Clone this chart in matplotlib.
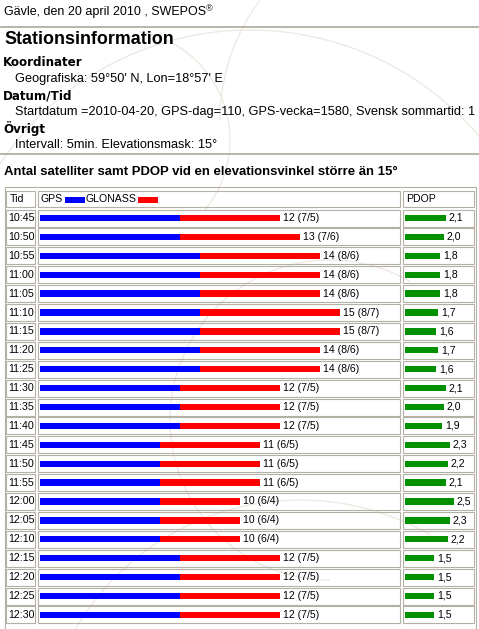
import matplotlib
matplotlib.use("Agg")
import matplotlib.pyplot as plt
from matplotlib.patches import Rectangle, Arc

plt.rcParams['font.family'] = ['Liberation Sans', 'DejaVu Sans']

# ---- data ----
times = ["10:45", "10:50", "10:55", "11:00", "11:05", "11:10", "11:15", "11:20",
         "11:25", "11:30", "11:35", "11:40", "11:45", "11:50", "11:55", "12:00",
         "12:05", "12:10", "12:15", "12:20", "12:25", "12:30"]
gps = [7, 7, 8, 8, 8, 8, 8, 8, 8, 7, 7, 7, 6, 6, 6, 6, 6, 6, 7, 7, 7, 7]
glonass = [5, 6, 6, 6, 6, 7, 7, 6, 6, 5, 5, 5, 5, 5, 5, 4, 4, 4, 5, 5, 5, 5]
pdop = [2.1, 2.0, 1.8, 1.8, 1.8, 1.7, 1.6, 1.7, 1.6, 2.1, 2.0, 1.9, 2.3, 2.2,
        2.1, 2.5, 2.3, 2.2, 1.5, 1.5, 1.5, 1.5]

header_text = "Gävle, den 20 april 2010 , SWEPOS"
title_text = "Stationsinformation"
info = [
    ("Koordinater", True), ("Geografiska: 59°50' N, Lon=18°57' E", False),
    ("Datum/Tid", True),
    ("Startdatum =2010-04-20, GPS-dag=110, GPS-vecka=1580, Svensk sommartid: 1", False),
    ("Övrigt", True), ("Intervall: 5min. Elevationsmask: 15°", False),
]
table_title = "Antal satelliter samt PDOP vid en elevationsvinkel större än 15°"

# ---- layout (pixels) ----
W, H = 479, 629
fig = plt.figure(figsize=(W / 100, H / 100), dpi=100)
fig.patch.set_facecolor("white")
base = fig.add_axes([0, 0, 1, 1])
base.set_xlim(0, W)
base.set_ylim(H, 0)
base.axis("off")

# faint watermark arcs
wm = "#ebe8e0"
for (cx, cy, r, t1, t2) in [(330, 420, 160, 90, 300), (250, 330, 300, 200, 330),
                            (120, 140, 110, 280, 400), (420, 120, 200, 180, 270),
                            (300, 760, 260, 200, 300)]:
    base.add_patch(Arc((cx, cy), 2 * r, 2 * r, theta1=t1, theta2=t2,
                       color=wm, lw=0.9))

t = base.text(4, 12, header_text, fontsize=9.0, va="center", ha="left")
base.annotate("®", xy=(1, 0.75), xycoords=t, fontsize=6.5, va="center", ha="left")

line_c = "#aca899"
base.plot([0, W], [26.5, 26.5], color=line_c, lw=1.2)
base.plot([0, W], [153.5, 153.5], color=line_c, lw=1.2)

base.text(4, 40, title_text, fontsize=12.9, fontweight="bold", va="center", ha="left")
ys = [63, 79, 96, 112, 129, 145]
for (s, b), y in zip(info, ys):
    if b:
        base.text(3, y, s, fontsize=8.6, fontweight="bold", va="center", ha="left",
                  family="DejaVu Sans")
    else:
        base.text(15, y, s, fontsize=9.2, va="center", ha="left")

base.text(4, 172, table_title, fontsize=9.45, fontweight="bold", va="center", ha="left")

# table
cell_c = "#b4b0a4"
base.add_patch(Rectangle((5, 187), 471, 445, fill=False, ec=cell_c, lw=0.8))
cols = [(6.5, 35), (38, 400), (403, 474)]
def cell_row(top, h):
    for x0, x1 in cols:
        base.add_patch(Rectangle((x0, top), x1 - x0, h, fill=False, ec=cell_c, lw=0.8))

cell_row(190.5, 16.5)
base.text(10, 199, "Tid", fontsize=7.6, va="center", ha="left")
base.text(41, 199, "GPS", fontsize=7.6, va="center", ha="left")
base.add_patch(Rectangle((65, 196.5), 20, 6, color="#0000ff", lw=0))
base.text(86, 199, "GLONASS", fontsize=7.6, va="center", ha="left")
base.add_patch(Rectangle((138, 196.5), 20, 6, color="#ff0000", lw=0))
base.text(406, 199, "PDOP", fontsize=7.6, va="center", ha="left")

y0, pitch = 218.0, 18.9
n = len(times)
for i, tm in enumerate(times):
    c = y0 + pitch * i
    cell_row(c - 8.5, 17)
    base.text(8, c, tm, fontsize=7.7, va="center", ha="left")

top_px = y0 - 0.5 * pitch
bot_px = y0 + (n - 0.5) * pitch
fb = 1 - bot_px / H
fh = (bot_px - top_px) / H

# satellites axes: 20 px per satellite
sx0, sx1 = 40, 400
ax = fig.add_axes([sx0 / W, fb, (sx1 - sx0) / W, fh])
ax.patch.set_alpha(0)
ax.set_xlim(0, (sx1 - sx0) / 20)
ax.set_ylim(n - 0.5, -0.5)
ax.axis("off")
idx = list(range(n))
ax.barh(idx, gps, height=0.33, color="#0000ff", lw=0)
ax.barh(idx, glonass, left=gps, height=0.33, color="#ff0000", lw=0)
for i in idx:
    tot = gps[i] + glonass[i]
    ax.text(tot + 0.15, i, f"{tot} ({gps[i]}/{glonass[i]})", fontsize=7.6,
            va="center", ha="left")

# PDOP axes: ~19.5 px per unit
px0, px1 = 405, 474
ax2 = fig.add_axes([px0 / W, fb, (px1 - px0) / W, fh])
ax2.patch.set_alpha(0)
ax2.set_xlim(0, (px1 - px0) / 19.5)
ax2.set_ylim(n - 0.5, -0.5)
ax2.axis("off")
ax2.barh(idx, pdop, height=0.33, color="#009000", lw=0)
for i in idx:
    ax2.text(pdop[i] + 0.15, i, f"{pdop[i]:.1f}".replace(".", ","), fontsize=7.6,
             va="center", ha="left")

fig.savefig("out.png", dpi=100)
